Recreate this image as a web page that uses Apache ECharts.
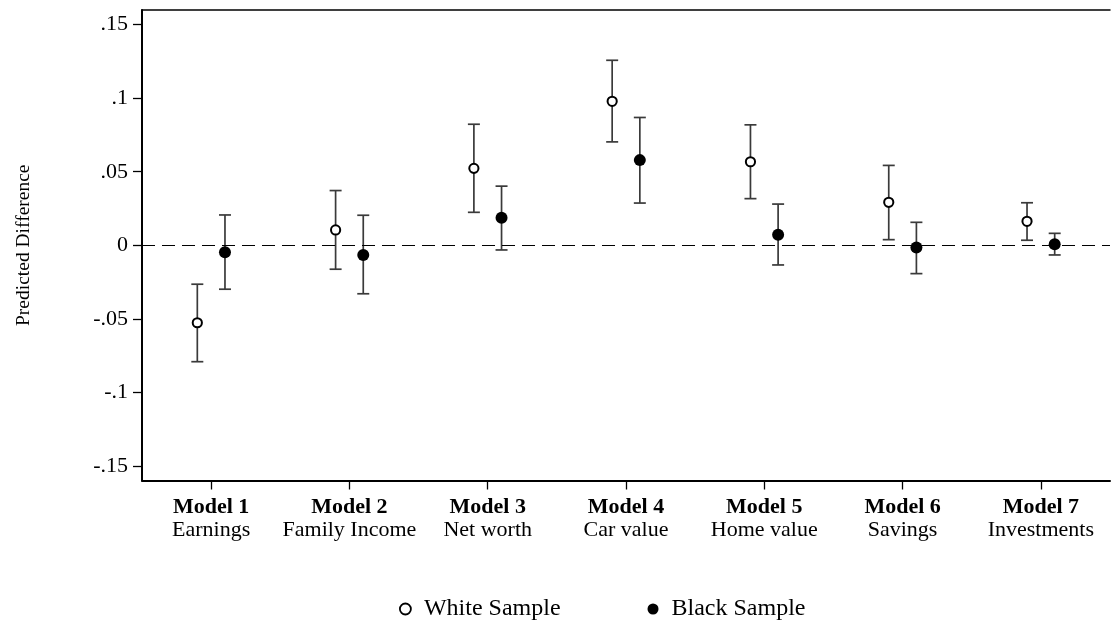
<!DOCTYPE html>
<html>
<head>
<meta charset="utf-8">
<script src="https://cdn.jsdelivr.net/npm/echarts@6/dist/echarts.min.js"></script>
<style>
html,body{margin:0;padding:0;background:#fff;}
#chart{width:1113px;height:622px;}
</style>
</head>
<body>
<div id="chart"></div>
<script>
const models = ['Model 1','Model 2','Model 3','Model 4','Model 5','Model 6','Model 7'];
const outcomes = ['Earnings','Family Income','Net worth','Car value','Home value','Savings','Investments'];
const whiteEst = [-0.0527, 0.0104, 0.0523, 0.0979, 0.0568, 0.0292, 0.0163];
const whiteLo  = [-0.0792, -0.0163, 0.0224, 0.0703, 0.0317, 0.0038, 0.0034];
const whiteHi  = [-0.0265, 0.0372, 0.0823, 0.1258, 0.0819, 0.0543, 0.0289];
const blackEst = [-0.0048, -0.0066, 0.0187, 0.0579, 0.0072, -0.0016, 0.0007];
const blackLo  = [-0.0299, -0.0330, -0.0032, 0.0287, -0.0134, -0.0193, -0.0066];
const blackHi  = [0.0206, 0.0204, 0.0402, 0.0869, 0.0280, 0.0156, 0.0081];
const yTickValues = [-0.15, -0.1, -0.05, 0, 0.05, 0.1, 0.15];
const yTickLabels = ['-.15', '-.1', '-.05', '0', '.05', '.1', '.15'];

const FONT = '"Liberation Serif", "Times New Roman", serif';
const OFFSET = 0.1;
const catPositions = models.map((m, i) => i + 1);

function buildData(est, lo, hi, shift) {
  return est.map((v, i) => [catPositions[i] + shift, v, lo[i], hi[i]]);
}

function makeRender(fill, r, lw) {
  return function (params, api) {
    const x = api.value(0), y = api.value(1), lo = api.value(2), hi = api.value(3);
    const c = api.coord([x, y]);
    const pl = api.coord([x, lo]);
    const ph = api.coord([x, hi]);
    const hw = 6;
    const barStyle = { stroke: '#3a3a3a', lineWidth: 1.7 };
    return {
      type: 'group',
      children: [
        { type: 'line', shape: { x1: c[0], y1: pl[1], x2: c[0], y2: ph[1] }, style: barStyle },
        { type: 'line', shape: { x1: c[0] - hw, y1: pl[1], x2: c[0] + hw, y2: pl[1] }, style: barStyle },
        { type: 'line', shape: { x1: c[0] - hw, y1: ph[1], x2: c[0] + hw, y2: ph[1] }, style: barStyle },
        { type: 'circle', shape: { cx: c[0], cy: c[1], r: r }, style: { fill: fill, stroke: '#000', lineWidth: lw } }
      ]
    };
  };
}

const chart = echarts.init(document.getElementById('chart'), null, { renderer: 'canvas' });
chart.setOption({
  animation: false,
  backgroundColor: '#fff',
  textStyle: { fontFamily: FONT, color: '#000' },
  grid: { left: 142, right: 3, top: 10, bottom: 141.5, containLabel: false },
  legend: {
    left: 394,
    top: 592,
    itemGap: 87,
    itemWidth: 11,
    itemHeight: 11,
    textStyle: { fontFamily: FONT, fontSize: 24, color: '#000', padding: [0, 0, 0, 8] },
    data: [
      { name: 'White Sample', icon: 'circle', itemStyle: { color: '#fff', borderColor: '#000', borderWidth: 1.8 } },
      { name: 'Black Sample', icon: 'circle', itemStyle: { color: '#000', borderColor: '#000', borderWidth: 0 } }
    ]
  },
  xAxis: [
    {
      type: 'value',
      min: 0.5,
      max: 7.5,
      position: 'bottom',
      splitLine: { show: false },
      axisLine: { show: true, onZero: false, lineStyle: { color: '#000', width: 2 } },
      axisTick: { show: true, customValues: catPositions, length: 9, inside: false, lineStyle: { color: '#000', width: 1.3 } },
      axisLabel: {
        customValues: catPositions,
        margin: 15,
        formatter: function (v) {
          const i = Math.round(v) - 1;
          return '{b|' + models[i] + '}\n{r|' + outcomes[i] + '}';
        },
        rich: {
          b: { fontFamily: FONT, fontSize: 22, fontWeight: 'bold', color: '#000', lineHeight: 23, align: 'center' },
          r: { fontFamily: FONT, fontSize: 22, color: '#000', lineHeight: 23, align: 'center' }
        }
      }
    },
    {
      type: 'value',
      min: 0.5,
      max: 7.5,
      position: 'top',
      splitLine: { show: false },
      axisLine: { show: true, onZero: false, lineStyle: { color: '#000', width: 1.5 } },
      axisTick: { show: false },
      axisLabel: { show: false }
    }
  ],
  yAxis: {
    type: 'value',
    min: -0.16,
    max: 0.16,
    name: 'Predicted Difference',
    nameLocation: 'middle',
    nameGap: 108,
    nameTextStyle: { fontFamily: FONT, fontSize: 19.5, color: '#000' },
    splitLine: { show: false },
    axisLine: { show: true, onZero: false, lineStyle: { color: '#000', width: 2 } },
    axisTick: { show: true, customValues: yTickValues, length: 9, lineStyle: { color: '#000', width: 1.3 } },
    axisLabel: {
      customValues: yTickValues,
      margin: 14,
      fontFamily: FONT,
      fontSize: 22,
      color: '#000',
      formatter: function (v) {
        const idx = yTickValues.findIndex(t => Math.abs(t - v) < 1e-9);
        return idx >= 0 ? yTickLabels[idx] : '';
      }
    }
  },
  series: [
    {
      name: 'White Sample',
      type: 'custom',
      xAxisIndex: 0,
      yAxisIndex: 0,
      clip: false,
      encode: { x: 0, y: 1 },
      data: buildData(whiteEst, whiteLo, whiteHi, -OFFSET),
      renderItem: makeRender('#fff', 4.6, 2),
      markLine: {
        silent: true,
        symbol: 'none',
        label: { show: false },
        lineStyle: { color: '#000', width: 1.2, type: [13, 7] },
        data: [{ yAxis: 0 }]
      },
      z: 3
    },
    {
      name: 'Black Sample',
      type: 'custom',
      xAxisIndex: 0,
      yAxisIndex: 0,
      clip: false,
      encode: { x: 0, y: 1 },
      data: buildData(blackEst, blackLo, blackHi, OFFSET),
      renderItem: makeRender('#000', 6, 0),
      z: 3
    }
  ]
});
</script>
</body>
</html>
